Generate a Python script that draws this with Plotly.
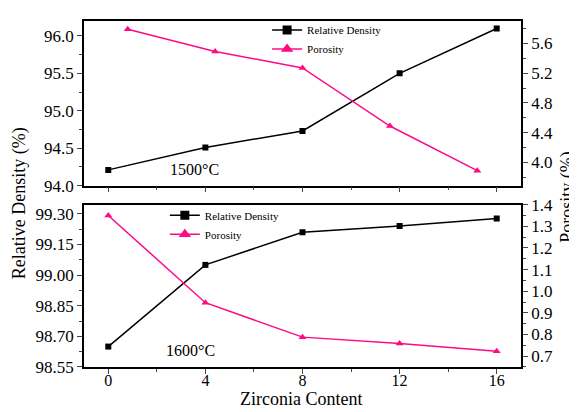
import plotly.graph_objects as go

# ---- data ----
zirconia = [0, 4, 8, 12, 16]
density_1500 = [94.21, 94.51, 94.73, 95.50, 96.10]
porosity_1500_x = [0.8, 4.4, 8.0, 11.6, 15.2]
porosity_1500 = [5.79, 5.49, 5.27, 4.49, 3.89]
density_1600 = [98.65, 99.05, 99.21, 99.24, 99.277]
porosity_1600 = [1.35, 0.947, 0.788, 0.759, 0.723]
x_ticks = [0, 4, 8, 12, 16]

BLACK = "#000000"
PINK = "#FF0A84"
FONT = "Liberation Serif"

fig = go.Figure()

# top panel (1500°C)
fig.add_trace(go.Scatter(x=zirconia, y=density_1500, mode="lines+markers",
                         line=dict(color=BLACK, width=1.5),
                         marker=dict(symbol="square", size=6, color=BLACK),
                         xaxis="x", yaxis="y", showlegend=False))
fig.add_trace(go.Scatter(x=porosity_1500_x, y=porosity_1500, mode="lines+markers",
                         line=dict(color=PINK, width=1.5),
                         marker=dict(symbol="triangle-up", size=7, color=PINK),
                         xaxis="x", yaxis="y2", showlegend=False))
# bottom panel (1600°C)
fig.add_trace(go.Scatter(x=zirconia, y=density_1600, mode="lines+markers",
                         line=dict(color=BLACK, width=1.5),
                         marker=dict(symbol="square", size=6, color=BLACK),
                         xaxis="x2", yaxis="y3", showlegend=False))
fig.add_trace(go.Scatter(x=zirconia, y=porosity_1600, mode="lines+markers",
                         line=dict(color=PINK, width=1.5),
                         marker=dict(symbol="triangle-up", size=7, color=PINK),
                         xaxis="x2", yaxis="y4", showlegend=False))

# legend-only entries
for lg, xa, ya1, ya2 in [("legend", "x", "y", "y2"), ("legend2", "x2", "y3", "y4")]:
    fig.add_trace(go.Scatter(x=[None], y=[None], mode="lines+markers", name="Relative Density",
                             line=dict(color=BLACK, width=1.5),
                             marker=dict(symbol="square", size=9, color=BLACK),
                             xaxis=xa, yaxis=ya1, legend=lg))
    fig.add_trace(go.Scatter(x=[None], y=[None], mode="lines+markers", name="Porosity",
                             line=dict(color=PINK, width=1.5),
                             marker=dict(symbol="triangle-up", size=11, color=PINK),
                             xaxis=xa, yaxis=ya2, legend=lg))

tickfont = dict(family=FONT, size=17, color="black")
common_x = dict(range=[-1, 17], tickvals=x_ticks, ticks="outside", ticklen=5, tickwidth=1,
                showline=True, linewidth=1.5, linecolor="black", mirror=True,
                showgrid=False, zeroline=False, automargin=False,
                tickfont=dict(family=FONT, size=16, color="black"),
                minor=dict(dtick=2, tick0=0, ticks="outside", ticklen=3, tickwidth=1, showgrid=False))
common_y = dict(ticks="outside", ticklen=5, tickwidth=1, showline=True, linewidth=1.5,
                linecolor="black", showgrid=False, zeroline=False, tickfont=tickfont,
                automargin=False)

top_dom = [0.5243, 1.0]
bot_dom = [0.0, 0.4692]

# the page body adds an 8px offset; the figure is sized so the plot area lands where the reference has it
fig.update_layout(
    template="none",
    width=569, height=404,
    margin=dict(l=76, r=56, t=7, b=45),
    paper_bgcolor="white", plot_bgcolor="white",
    font=dict(family=FONT, color="black"),
    xaxis=dict(**common_x, domain=[0, 1], anchor="y", showticklabels=False),
    yaxis=dict(**common_y, domain=top_dom, anchor="x", range=[94.0, 96.2],
               tick0=94.0, dtick=0.5, tickformat=".1f",
               minor=dict(dtick=0.25, tick0=94.0, ticks="outside", ticklen=3, tickwidth=1)),
    yaxis2=dict(**common_y, overlaying="y", side="right", anchor="x", range=[3.69, 5.9],
                tick0=4.0, dtick=0.4, tickformat=".1f",
                minor=dict(dtick=0.2, tick0=4.0, ticks="outside", ticklen=3, tickwidth=1)),
    xaxis2=dict(**common_x, domain=[0, 1], anchor="y3", ticklabelstandoff=-7),
    yaxis3=dict(**common_y, domain=bot_dom, anchor="x2", range=[98.55, 99.345],
                tick0=98.55, dtick=0.15, tickformat=".2f",
                minor=dict(dtick=0.075, tick0=98.55, ticks="outside", ticklen=3, tickwidth=1)),
    yaxis4=dict(**common_y, overlaying="y3", side="right", anchor="x2", range=[0.65, 1.4],
                tick0=0.7, dtick=0.1, tickformat=".1f",
                minor=dict(dtick=0.05, tick0=0.7, ticks="outside", ticklen=3, tickwidth=1)),
    legend=dict(x=0.419, y=1.016, xanchor="left", yanchor="top", bgcolor="rgba(0,0,0,0)",
                font=dict(family=FONT, size=11, color="black"), tracegroupgap=0),
    legend2=dict(x=0.185, y=0.4805, xanchor="left", yanchor="top", bgcolor="rgba(0,0,0,0)",
                 font=dict(family=FONT, size=11, color="black"), tracegroupgap=0),
)

ann = dict(showarrow=False, xanchor="center", yanchor="middle")
fig.add_annotation(text="1500°C", x=3.55, y=94.22, xref="x", yref="y", **ann,
                   font=dict(family=FONT, size=16, color="black"))
fig.add_annotation(text="1600°C", x=3.4, y=98.63, xref="x2", yref="y3", **ann,
                   font=dict(family=FONT, size=16, color="black"))
fig.add_annotation(text="Relative Density (%)", x=-0.146, y=0.474, xref="paper", yref="paper",
                   textangle=-90, **ann, font=dict(family=FONT, size=18, color="black"))
fig.add_annotation(text="Porosity (%)", x=1.1045, y=0.491, xref="paper", yref="paper",
                   textangle=-90, **ann, font=dict(family=FONT, size=18, color="black"))
fig.add_annotation(text="Zirconia Content", x=0.4965, y=-0.092, xref="paper", yref="paper",
                   **ann, font=dict(family=FONT, size=18, color="black"))

fig.write_html("out.html")
